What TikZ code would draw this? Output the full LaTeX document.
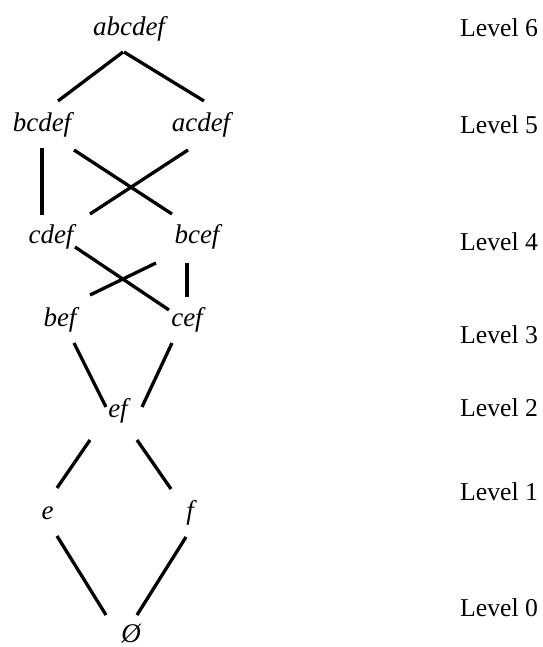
\documentclass[tikz,border=0pt]{standalone}
\usepackage{fontspec}
\setmainfont{Liberation Serif}

\begin{document}
\begin{tikzpicture}[x=1pt,y=1pt,
				set/.style={font=\fontsize{27}{32}\selectfont\itshape,
									inner sep=0pt,anchor=base},
				lvl/.style={font=\fontsize{25.7}{30}\selectfont,
									inner sep=0pt,anchor=base west},
				link/.style={line width=3.3pt}]
\path[ use as bounding box ] (0,0) rectangle (542,647);

	\node[set] (abcdef) at (129,611) {abcdef};
	\node[set] (bcdef) at (42,515) {bcdef};
	\node[set] (acdef) at (201,515) {acdef};
	\node[set] (cdef) at (51,403) {cdef};
	\node[set] (bcef) at (197,403) {bcef};
	\node[set] (bef) at (60,320) {bef};
	\node[set] (cef) at (187,320) {cef};
	\node[set] (ef) at (118,229) {ef};
	\node[set] (e) at (47.5,127) {e};
	\node[set] (f) at (190,127) {f};
	\node[set] (empty) at (131,5) {Ø};

	\node[lvl] (l6) at (460,610) {Level 6};
	\node[lvl] (l5) at (460,513) {Level 5};
	\node[lvl] (l4) at (460,396) {Level 4};
	\node[lvl] (l3) at (460,303) {Level 3};
	\node[lvl] (l2) at (460,230) {Level 2};
	\node[lvl] (l1) at (460,146) {Level 1};
	\node[lvl] (l0) at (460,30) {Level 0};

  \path[link] ([xshift=-6pt,yshift=-16pt]abcdef.base)
	edge ([xshift=16pt,yshift=31pt]bcdef.base)
	([xshift=-5pt,yshift=-16pt]abcdef.base)
	edge ([xshift=3pt,yshift=31pt]acdef.base)
	([yshift=-16pt]bcdef.base)
	edge ([xshift=-9pt,yshift=29pt]cdef.base)
	([xshift=32pt,yshift=-18pt]bcdef.base)
	edge ([xshift=-25pt,yshift=30pt]bcef.base)
	([xshift=-13pt,yshift=-18pt]acdef.base)
	edge ([xshift=39pt,yshift=30pt]cdef.base)
	([xshift=24pt,yshift=-3pt]cdef.base)
	edge ([xshift=-18pt,yshift=17pt]cef.base)
	([xshift=-41pt,yshift=-19pt]bcef.base)
	edge ([xshift=30pt,yshift=32pt]bef.base)
	([xshift=-10pt,yshift=-19pt]bcef.base)
	edge ([yshift=30pt]cef.base)
	([xshift=14pt,yshift=-16pt]bef.base)
	edge ([xshift=-12pt,yshift=11pt]ef.base)
	([xshift=-15pt,yshift=-16pt]cef.base)
	edge ([xshift=24pt,yshift=11pt]ef.base)
	([xshift=-28pt,yshift=-22pt]ef.base)
	edge ([xshift=9.5pt,yshift=32pt]e.base)
	([xshift=19pt,yshift=-22pt]ef.base)
	edge ([xshift=-19pt,yshift=31pt]f.base)
	([xshift=9.5pt,yshift=-16pt]e.base)
	edge ([xshift=-25pt,yshift=27pt]empty.base)
	([xshift=-4pt,yshift=-17pt]f.base)
	edge ([xshift=6pt,yshift=27pt]empty.base);
\end{tikzpicture}
\end{document}
